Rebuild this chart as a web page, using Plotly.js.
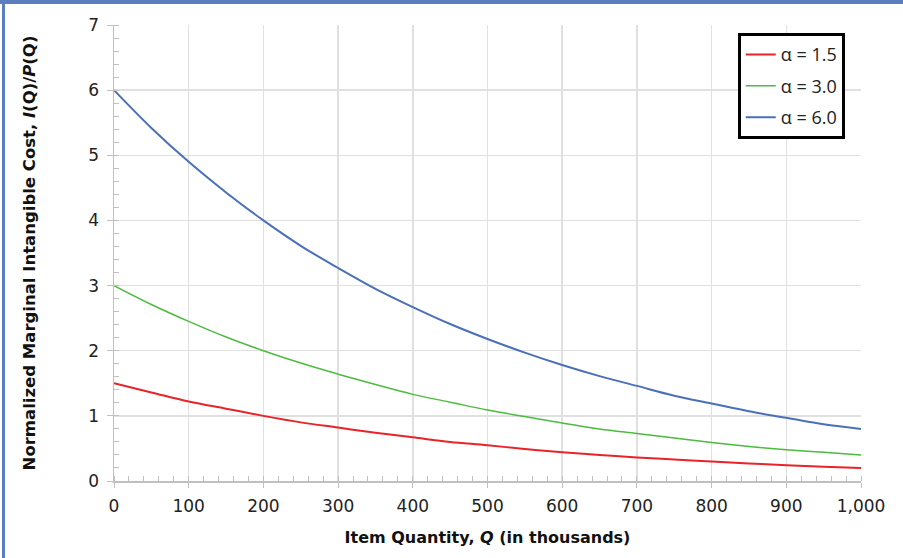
<!DOCTYPE html>
<html>
<head>
<meta charset="utf-8">
<script src="https://cdn.plot.ly/plotly-3.0.1.min.js"></script>
<style>
  html, body { margin: 0; padding: 0; background: #fff; }
  #wrap { position: relative; width: 903px; height: 558px; }
  #chart { width: 903px; height: 558px; }
  .bar { position: absolute; background: #5b7ebe; }
</style>
</head>
<body>
<div id="wrap">
  <div id="chart"></div>
  <div class="bar" style="left:0;top:0;width:903px;height:4px;"></div>
  <div class="bar" style="left:2px;top:0;width:3px;height:558px;"></div>
</div>
<script>
// Item quantity Q (thousands)
const quantity = [0, 50, 100, 150, 200, 250, 300, 350, 400, 450, 500, 550, 600, 650, 700, 750, 800, 850, 900, 950, 1000];
// Normalized marginal intangible cost
const alpha15 = [1.5, 1.36, 1.22, 1.11, 1.0, 0.90, 0.82, 0.74, 0.67, 0.60, 0.55, 0.49, 0.44, 0.40, 0.36, 0.33, 0.30, 0.27, 0.24, 0.22, 0.20];
const alpha30 = [3.0, 2.71, 2.45, 2.21, 2.0, 1.81, 1.64, 1.48, 1.33, 1.21, 1.09, 0.99, 0.89, 0.80, 0.73, 0.66, 0.59, 0.53, 0.48, 0.44, 0.40];
const alpha60 = [6.0, 5.42, 4.90, 4.43, 4.0, 3.61, 3.27, 2.95, 2.67, 2.41, 2.18, 1.97, 1.78, 1.61, 1.46, 1.31, 1.19, 1.07, 0.97, 0.87, 0.80];
const seriesNames = ['α = 1.5', 'α = 3.0', 'α = 6.0'];
const xTickVals = [0, 100, 200, 300, 400, 500, 600, 700, 800, 900, 1000];
const xTickText = ['0', '100', '200', '300', '400', '500', '600', '700', '800', '900', '1,000'];

const FONT = '"DejaVu Sans", sans-serif';
const LFONT = '"Open Sans", "DejaVu Sans", sans-serif';

const traces = [
  { x: quantity, y: alpha15, name: seriesNames[0], legendgroup: 'a', line: { color: '#e8232a', width: 2, shape: 'spline' } },
  { x: quantity, y: alpha30, name: seriesNames[1], legendgroup: 'b', line: { color: '#4dbb3f', width: 1.5, shape: 'spline' } },
  { x: quantity, y: alpha60, name: seriesNames[2], legendgroup: 'c', line: { color: '#4a70b8', width: 2, shape: 'spline' } }
].map(t => Object.assign({ type: 'scatter', mode: 'lines', hoverinfo: 'skip' }, t));

const layout = {
  width: 903, height: 558,
  margin: { l: 114, r: 42, t: 25, b: 77 },
  paper_bgcolor: '#ffffff', plot_bgcolor: '#ffffff',
  font: { family: FONT, size: 16, color: '#222' },
  showlegend: true,
  legend: {
    x: 0.835, y: 0.982, xanchor: 'left', yanchor: 'top',
    bgcolor: '#ffffff', bordercolor: '#000000', borderwidth: 3,
    font: { family: LFONT, size: 18, color: '#222' },
    tracegroupgap: 5,
    traceorder: 'grouped'
  },
  xaxis: {
    range: [0, 1000],
    tickmode: 'array', tickvals: xTickVals, ticktext: xTickText,
    showgrid: true, gridcolor: '#e0e0e0', gridwidth: 1.5,
    showline: true, linecolor: '#c0c0c0', linewidth: 1.5,
    ticks: 'outside', ticklen: 5, tickcolor: '#c0c0c0',
    ticklabelstandoff: 4,
    minor: { dtick: 20, tick0: 0, ticks: 'inside', ticklen: 5, tickcolor: '#c0c0c0', showgrid: false },
    zeroline: false,
    tickfont: { family: FONT, size: 17, color: '#222' },
    title: { text: '<b>Item Quantity, <i>Q</i> (in thousands)</b>', font: { family: FONT, size: 16, color: '#111' }, standoff: 17 }
  },
  yaxis: {
    range: [0, 7], dtick: 1, tick0: 0,
    showgrid: true, gridcolor: '#e0e0e0', gridwidth: 1.5,
    showline: true, linecolor: '#c0c0c0', linewidth: 1.5,
    ticks: 'outside', ticklen: 6, tickcolor: '#c0c0c0',
    ticklabelstandoff: 4,
    minor: { dtick: 0.2, ticks: 'inside', ticklen: 5, tickcolor: '#c0c0c0', showgrid: false },
    zeroline: false,
    tickfont: { family: FONT, size: 17, color: '#222' },
    title: { text: '<b>Normalized Marginal Intangible Cost, <i>I</i>(Q)/<i>P</i>(Q)</b>', font: { family: FONT, size: 16.5, color: '#111' }, standoff: 48 }
  }
};

Plotly.newPlot('chart', traces, layout, { displayModeBar: false, staticPlot: true });
</script>
</body>
</html>
